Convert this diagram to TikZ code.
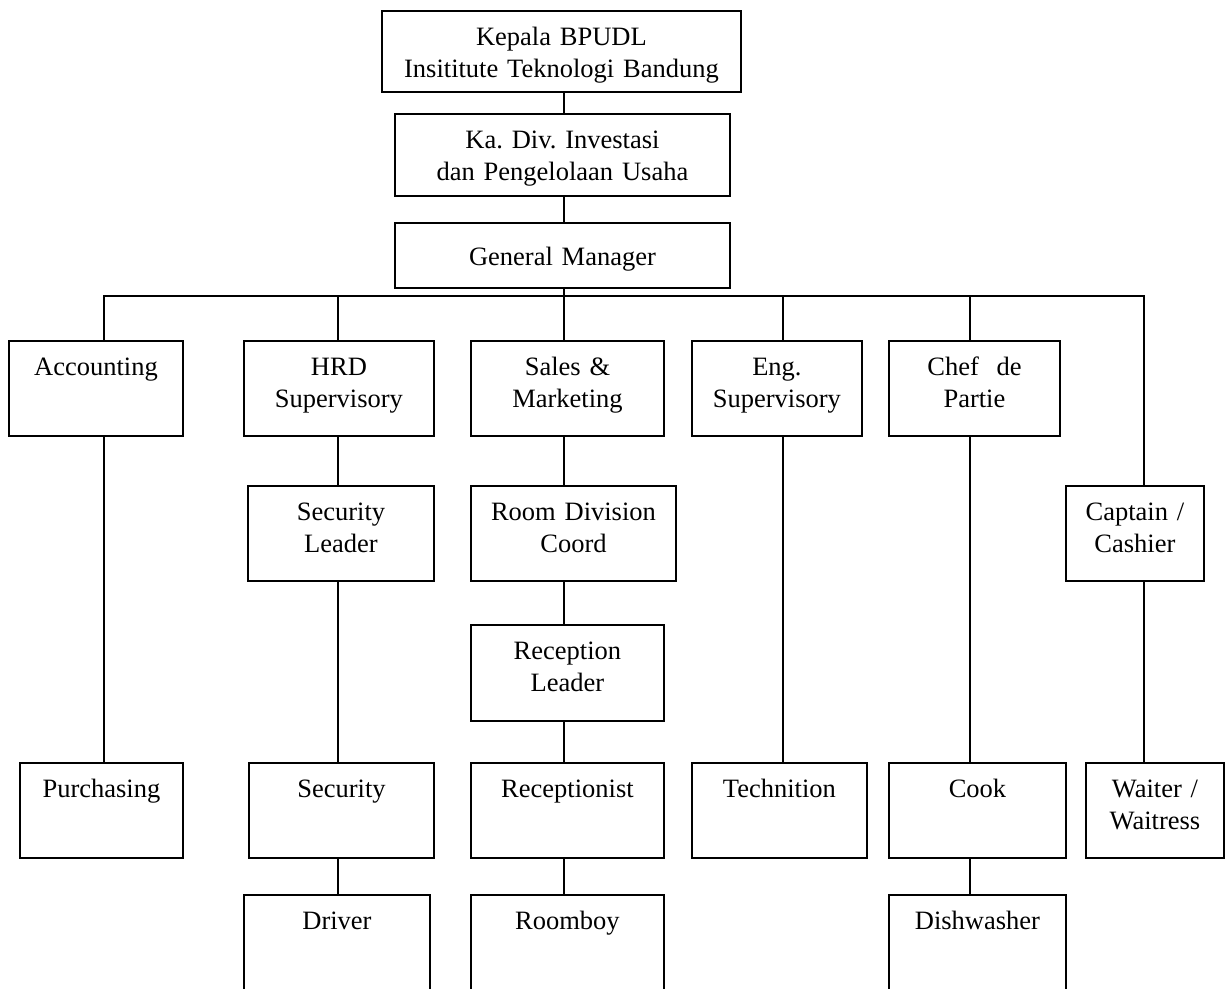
\documentclass[tikz,border=0pt]{standalone}
\usepackage{fontspec}
\setmainfont{Liberation Serif}
\usetikzlibrary{positioning}

\begin{document}
\frenchspacing
\begin{tikzpicture}[
    x=1pt, y=-1pt,
    every node/.style={font=\fontsize{26.5pt}{31.8pt}\selectfont},
    box/.style={draw, line width=1.9pt, inner sep=0pt, align=center,
                anchor=north west, text height=35pt, text depth=60pt},
    link/.style={line width=1.9pt},
]
\clip (0,0) rectangle (1228,988);
\fill[white] (0,0) rectangle (1228,988);

% top of the chart
\node[box, text width=359pt, text depth=46pt] (kepala) at (381,10)
  {Kepala BPUDL\\Insititute Teknologi Bandung};
\node[box, text width=335pt, text depth=47pt] (kadiv) at (394,113)
  {Ka. Div. Investasi\\dan Pengelolaan Usaha};
\node[box, text width=335pt, text height=43pt, text depth=22pt] (gm) at (394,222)
  {General Manager};

% bus points
\coordinate (b1) at (104,296);
\coordinate (b2) at (338,296);
\coordinate (b3) at (564,296);
\coordinate (b4) at (783,296);
\coordinate (b5) at (970,296);
\coordinate (b6) at (1144,296);

% first row
\node[box, text width=174pt] (acc)   at (8,340)   {Accounting};
\node[box, text width=190pt] (hrd)   at (243,340) {HRD\\Supervisory};
\node[box, text width=193pt] (sales) at (470,340) {Sales \&\\Marketing};
\node[box, text width=170pt] (eng)   at (691,340) {Eng.\\Supervisory};
\node[box, text width=171pt] (chef)  at (888,340) {Chef~~de\\Partie};

% second row
\node[box, text width=186pt] (secl)  at (247,485)  {Security\\Leader};
\node[box, text width=205pt] (room)  at (470,485)  {Room Division\\Coord};
\node[box, text width=138pt] (capt)  at (1065,485) {Captain /\\Cashier};
\node[box, text width=193pt, text depth=61pt] (recl) at (470,624) {Reception\\Leader};

% third row
\node[box, text width=163pt] (purch)  at (19,762)   {Purchasing};
\node[box, text width=185pt] (sec)    at (248,762)  {Security};
\node[box, text width=193pt] (recp)   at (470,762)  {Receptionist};
\node[box, text width=175pt] (tech)   at (691,762)  {Technition};
\node[box, text width=177pt] (cook)   at (888,762)  {Cook};
\node[box, text width=138pt] (waiter) at (1085,762) {Waiter /\\Waitress};

% last row
\node[box, text width=186pt, text depth=81pt] (driver)  at (243,894) {Driver};
\node[box, text width=193pt, text depth=81pt] (roomboy) at (470,894) {Roomboy};
\node[box, text width=177pt, text depth=81pt] (dish)    at (888,894) {Dishwasher};

% connectors
\draw[link] (kepala.south -| b3) -- (kadiv.north -| b3);
\draw[link] (kadiv.south -| b3) -- (gm.north -| b3);
\draw[link] (gm.south -| b3) -- (b3);
\draw[link] (b1 |- acc.north) -- (b1) -- (b6) -- (b6 |- capt.north);
\draw[link] (b2) -- (b2 |- hrd.north);
\draw[link] (b3) -- (b3 |- sales.north);
\draw[link] (b4) -- (b4 |- eng.north);
\draw[link] (b5) -- (b5 |- chef.north);

\draw[link] (acc.south -| b1) -- (purch.north -| b1);
\draw[link] (hrd.south -| b2) -- (secl.north -| b2);
\draw[link] (secl.south -| b2) -- (sec.north -| b2);
\draw[link] (sec.south -| b2) -- (driver.north -| b2);
\draw[link] (sales.south -| b3) -- (room.north -| b3);
\draw[link] (room.south -| b3) -- (recl.north -| b3);
\draw[link] (recl.south -| b3) -- (recp.north -| b3);
\draw[link] (recp.south -| b3) -- (roomboy.north -| b3);
\draw[link] (eng.south -| b4) -- (tech.north -| b4);
\draw[link] (chef.south -| b5) -- (cook.north -| b5);
\draw[link] (cook.south -| b5) -- (dish.north -| b5);
\draw[link] (capt.south -| b6) -- (waiter.north -| b6);
\end{tikzpicture}
\end{document}
